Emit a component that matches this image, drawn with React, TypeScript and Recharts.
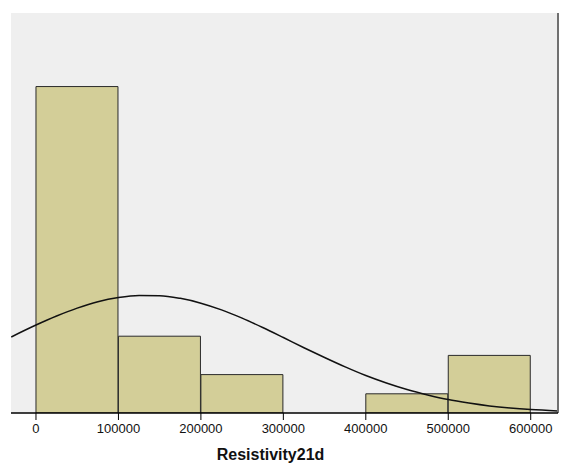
import React from "react";
import {
  ComposedChart,
  Bar,
  Line,
  XAxis,
  YAxis,
  CartesianGrid,
  ReferenceLine,
} from "recharts";

// Histogram bins (centres of 100000-wide bins) and frequencies
const binCenters = [50000, 150000, 250000, 350000, 450000, 550000];
const binCounts = [17, 4, 2, 0, 1, 3];

// Normal curve
const curveX = [
  -30000, 0, 25000, 50000, 75000, 100000, 125000, 150000, 175000, 200000,
  225000, 250000, 275000, 300000, 325000, 350000, 375000, 400000, 425000,
  450000, 475000, 500000, 525000, 550000, 575000, 600000, 633000,
];
const curveY = [
  3.96, 4.58, 5.05, 5.46, 5.79, 6.01, 6.12, 6.11, 5.97, 5.72, 5.37, 4.94,
  4.45, 3.93, 3.4, 2.89, 2.4, 1.95, 1.56, 1.22, 0.94, 0.7, 0.52, 0.37, 0.26,
  0.18, 0.11,
];

const xTicks = [0, 100000, 200000, 300000, 400000, 500000, 600000];
const xDomain = [-30300, 633100];
const yDomain = [0, 20.83];
const xTitle = "Resistivity21d";

const barData = binCenters.map((x, i) => ({ x, count: binCounts[i] }));
const curveData = curveX.map((x, i) => ({ x, curve: curveY[i] }));

const FONT = "'Liberation Sans', Arial, sans-serif";

export default function App() {
  return (
    <div style={{ position: "absolute", left: 0, top: 0, background: "#fff" }}>
      <ComposedChart
        width={561}
        height={466}
        data={barData}
        margin={{ top: 13, right: 3, bottom: 23, left: 11 }}
        barCategoryGap={0}
        barGap={0}
      >
        <CartesianGrid fill="#efefef" horizontal={false} vertical={false} />
        <XAxis
          dataKey="x"
          type="number"
          domain={xDomain}
          ticks={xTicks}
          allowDataOverflow
          height={30}
          tickSize={7}
          tickMargin={4}
          stroke="#000"
          axisLine={{ stroke: "#000", strokeWidth: 1.5 }}
          tickLine={{ stroke: "#000" }}
          tick={{ fill: "#111", fontSize: 13, fontFamily: FONT }}
          interval={0}
          label={{
            value: xTitle,
            position: "insideBottom",
            offset: -17,
            dx: -14,
            style: { fontFamily: FONT, fontSize: 16, fontWeight: "bold", fill: "#111" },
          }}
        />
        <XAxis
          xAxisId="bars"
          dataKey="x"
          type="number"
          domain={xDomain}
          allowDataOverflow
          hide
        />
        <YAxis hide domain={yDomain} allowDataOverflow />
        <Bar
          xAxisId="bars"
          dataKey="count"
          fill="#d3ce98"
          stroke="#2a2a2a"
          strokeWidth={1}
          isAnimationActive={false}
        />
        <Line
          data={curveData}
          dataKey="curve"
          type="monotone"
          stroke="#111"
          strokeWidth={1.5}
          dot={false}
          activeDot={false}
          isAnimationActive={false}
        />
        <ReferenceLine x={xDomain[1]} stroke="#707070" strokeWidth={2} />
      </ComposedChart>
    </div>
  );
}
